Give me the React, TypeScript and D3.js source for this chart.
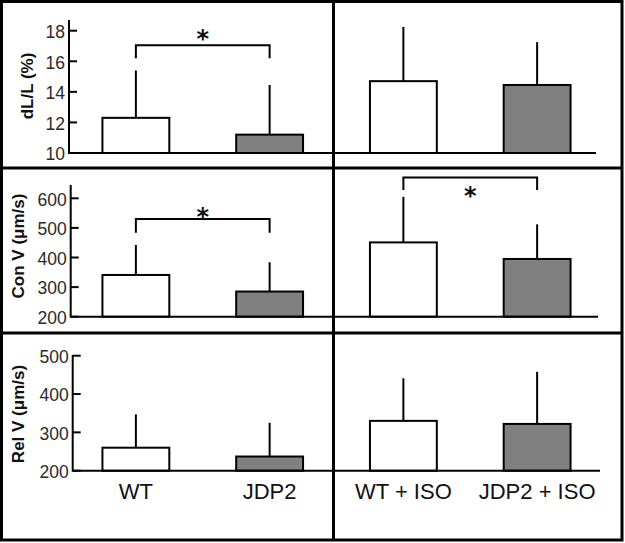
import * as d3 from 'd3';

const categories = ['WT', 'JDP2', 'WT + ISO', 'JDP2 + ISO'];
const barFills = ['#ffffff', '#808080', '#ffffff', '#808080'];

const dlMeans = [12.3, 11.2, 14.7, 14.45];
const dlErrs = [3.1, 3.25, 3.55, 2.8];
const dlTicks = [10, 12, 14, 16, 18];

const conMeans = [341, 285, 451, 395];
const conErrs = [101, 99, 154, 117];
const conTicks = [200, 300, 400, 500, 600];

const relMeans = [260, 237, 330, 322];
const relErrs = [87, 88, 111, 136];
const relTicks = [200, 300, 400, 500];

// significance brackets: [from, to, bar level, leg end level]
const dlBrackets = [[0, 1, 17.05, 16.2]];
const conBrackets = [[0, 1, 530, 484], [2, 3, 670, 628]];
const relBrackets: number[][] = [];

const W = 625, H = 543;
const FONT = '"Liberation Sans", Arial, sans-serif';

const x = d3.scaleBand<string>().domain(categories).range([69, 604]).paddingInner(0.5).paddingOuter(0.25);

const panels = [
  { title: 'dL/L (%)', means: dlMeans, errs: dlErrs, ticks: dlTicks, brackets: dlBrackets,
    base: 153, top: 30.7, axisTop: 20, axisX: 69, baseEnd: 596, titleX: 27, titleY: 86, starDy: [-13] },
  { title: 'Con V (μm/s)', means: conMeans, errs: conErrs, ticks: conTicks, brackets: conBrackets,
    base: 316.7, top: 198.3, axisTop: 185, axisX: 70.7, baseEnd: 598, titleX: 18, titleY: 246, starDy: [-8, 12] },
  { title: 'Rel V (μm/s)', means: relMeans, errs: relErrs, ticks: relTicks, brackets: relBrackets,
    base: 470.7, top: 355.7, axisTop: 355, axisX: 72.7, baseEnd: 600, titleX: 18, titleY: 414, starDy: [] },
];

function Panel({ p }: { p: typeof panels[number] }) {
  const y = d3.scaleLinear()
    .domain([p.ticks[0], p.ticks[p.ticks.length - 1]])
    .range([p.base, p.top]);
  const bw = x.bandwidth();
  return (
    <g>
      {p.means.map((m, i) => {
        const cx = x(categories[i])! + bw / 2;
        return (
          <g key={i}>
            <line x1={cx} x2={cx} y1={y(m)} y2={y(m + p.errs[i])} stroke="#000" strokeWidth={2} />
            <rect x={x(categories[i])} y={y(m)} width={bw} height={p.base - y(m)}
              fill={barFills[i]} stroke="#000" strokeWidth={2} />
          </g>
        );
      })}
      <line x1={p.axisX} x2={p.baseEnd} y1={p.base} y2={p.base} stroke="#000" strokeWidth={2} />
      <line x1={p.axisX} x2={p.axisX} y1={p.axisTop} y2={p.base + 1} stroke="#000" strokeWidth={2} />
      {p.ticks.map((t) => (
        <g key={t}>
          <line x1={p.axisX} x2={p.axisX + 8} y1={y(t)} y2={y(t)} stroke="#000" strokeWidth={2} />
          <text x={p.axisX - 4} y={y(t)} dy="0.42em" textAnchor="end" fontSize={17.5}
            fill="#2a2a2a" fontFamily={FONT}>{t}</text>
        </g>
      ))}
      <text transform={`translate(${p.titleX},${p.titleY}) rotate(-90)`} textAnchor="middle" dy="0.35em"
        fontSize={17} fontWeight="bold" fill="#111" fontFamily={FONT}>{p.title}</text>
      {p.brackets.map(([a, b, lvl, leg], k) => {
        const xa = x(categories[a])! + bw / 2;
        const xb = x(categories[b])! + bw / 2;
        const yl = y(lvl), yg = y(leg);
        return (
          <g key={k}>
            <path d={`M${xa},${yg}V${yl}H${xb}V${yg}`} fill="none" stroke="#000" strokeWidth={2} />
            <text x={(xa + xb) / 2} y={yl + p.starDy[k]} dy="0.6em" textAnchor="middle" fontSize={24}
              fontWeight="bold" fill="#111" fontFamily='"DejaVu Sans", sans-serif'>*</text>
          </g>
        );
      })}
    </g>
  );
}

export default function App() {
  const bw = x.bandwidth();
  return (
    <svg width={W} height={H} style={{ position: 'fixed', left: 0, top: 0, background: '#fff' }}>
      <rect x={0} y={0} width={W} height={H} fill="#fff" />
      {panels.map((p, i) => <Panel key={i} p={p} />)}
      {categories.map((c) => (
        <text key={c} x={x(c)! + bw / 2} y={499} textAnchor="middle" fontSize={22}
          fill="#111" fontFamily={FONT}>{c}</text>
      ))}
      <line x1={333.5} x2={333.5} y1={2} y2={540} stroke="#000" strokeWidth={3} />
      <line x1={2} x2={622} y1={168} y2={168} stroke="#000" strokeWidth={3} />
      <line x1={2} x2={622} y1={333} y2={333} stroke="#000" strokeWidth={3} />
      <rect x={1.5} y={1.5} width={620.5} height={538.5} fill="none" stroke="#000" strokeWidth={3} />
    </svg>
  );
}
